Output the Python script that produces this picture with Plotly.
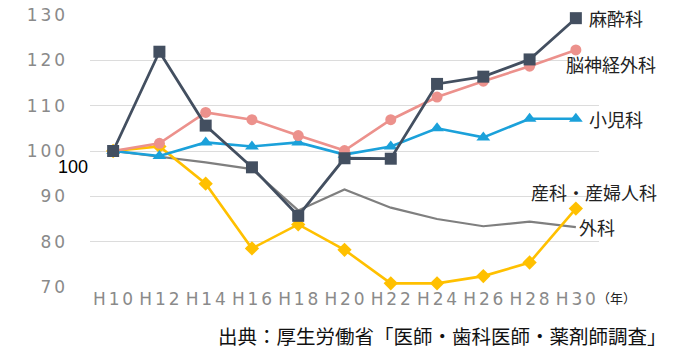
import plotly.graph_objects as go

years = ["H10", "H12", "H14", "H16", "H18", "H20", "H22", "H24", "H26", "H28", "H30"]

# Index of physicians by specialty (H10 = 100)
masui = [100, 121.9, 105.6, 96.4, 85.7, 98.4, 98.3, 114.8, 116.4, 120.2, 129.3]
noushinkei = [100, 101.7, 108.5, 106.9, 103.4, 100.1, 106.9, 111.9, 115.4, 118.7, 122.3]
shouni = [100, 98.9, 101.9, 101.0, 101.9, 99.2, 101.0, 105.0, 103.0, 107.1, 107.1]
sanka = [100, 101.0, 92.8, 78.5, 83.8, 78.2, 70.8, 70.8, 72.4, 75.4, 87.3]
geka = [100, 98.8, 97.5, 96.0, 86.9, 91.5, 87.5, 85.0, 83.4, 84.4, 83.2]

y_ticks = [70, 80, 90, 100, 110, 120, 130]

CJK = "Noto Sans CJK JP"
TICK_FONT = dict(family="DejaVu Sans", size=17, color="#8A8A8A")


def spaced(s):
    # widen tick labels with narrow spaces between characters
    return "\u2006".join(str(s))


series = [
    # name, values, color, marker symbol, line width, marker size
    ("外科", geka, "#7F7F7F", None, 2.2, 0),
    ("産科・産婦人科", sanka, "#FFC000", "diamond", 2.6, 11),
    ("小児科", shouni, "#1BA1DA", "triangle-up", 2.6, 12),
    ("脳神経外科", noushinkei, "#EC918C", "circle", 2.6, 11),
    ("麻酔科", masui, "#434F60", "square", 2.8, 12),
]

fig = go.Figure()
for name, vals, color, sym, lw, ms in series:
    fig.add_trace(go.Scatter(
        x=years, y=vals, name=name,
        mode="lines+markers" if sym else "lines",
        line=dict(color=color, width=lw),
        marker=dict(symbol=sym or "circle", size=ms, color=color),
        cliponaxis=False, showlegend=False,
    ))

# Series labels at the right end of each line
labels = [
    ("麻酔科", masui[-1], 11, 0),
    ("脳神経外科", noushinkei[-1], -12, -14),
    ("小児科", shouni[-1], 11, 0),
    ("産科・産婦人科", sanka[-1], -47, 17),
    ("外科", geka[-1], 1, 0),
]
for text, yv, dx, dy in labels:
    fig.add_annotation(
        x="H30", y=yv, xref="x", yref="y", text=text, showarrow=False,
        xanchor="left", yanchor="middle", xshift=dx, yshift=dy,
        font=dict(family=CJK, size=18, color="#222222"),
    )

# Stray base-value label beside the axis
fig.add_annotation(
    x=0, y=100, xref="paper", yref="y", text="100", showarrow=False,
    xanchor="right", yanchor="middle", xshift=0, yshift=-16,
    font=dict(family="Liberation Sans", size=18, color="#000000"),
)

# Unit of the category axis
fig.add_annotation(
    x=1, y=0, xref="paper", yref="paper", text="（年）", showarrow=False,
    xanchor="left", yanchor="middle", xshift=-4, yshift=-10,
    font=dict(family=CJK, size=13, color="#222222"),
)

# Source note
fig.add_annotation(
    x=1, y=0, xref="paper", yref="paper",
    text="出典：厚生労働省「医師・歯科医師・薬剤師調査」", showarrow=False,
    xanchor="right", yanchor="middle", xshift=70, yshift=-48,
    font=dict(family=CJK, size=19.5, color="#111111"),
)

fig.update_layout(
    width=680, height=350,
    margin=dict(l=90, r=81, t=15, b=63),
    paper_bgcolor="white", plot_bgcolor="white",
    xaxis=dict(
        type="category", range=[-0.5, 10.5], showgrid=False,
        showline=False, zeroline=False, ticks="", automargin=False,
        tickvals=years, ticktext=[spaced(y) for y in years],
        tickfont=TICK_FONT,
    ),
    yaxis=dict(
        range=[70, 130], tickvals=y_ticks, ticktext=[spaced(v) for v in y_ticks],
        showgrid=True, gridcolor="#DCDCDC", gridwidth=1, zeroline=False,
        showline=False, automargin=False, ticklabelstandoff=24,
        tickfont=TICK_FONT,
    ),
)

fig.write_html("out.html")
